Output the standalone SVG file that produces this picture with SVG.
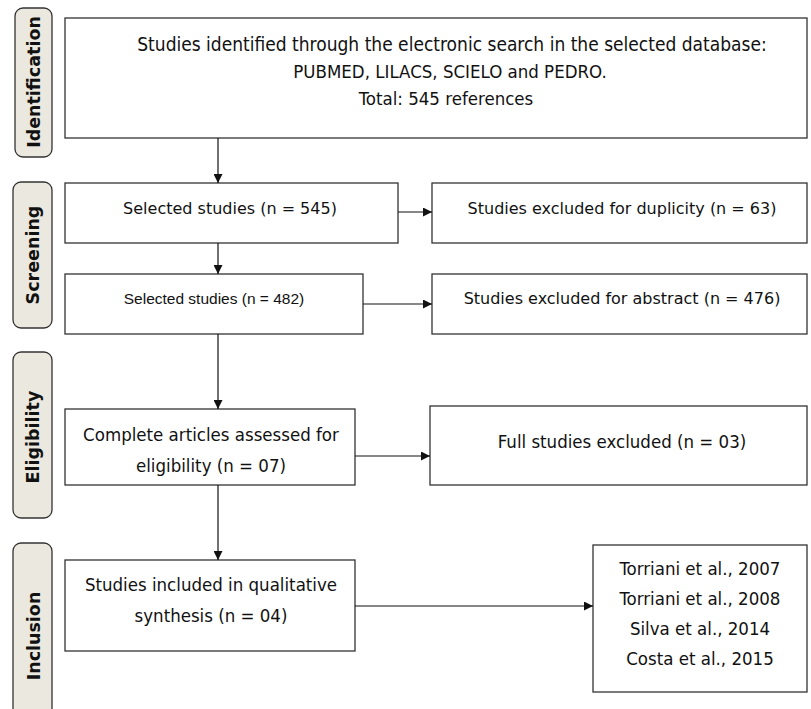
<svg xmlns="http://www.w3.org/2000/svg" width="811" height="709" viewBox="0 0 811 709">
<style>
.phase{fill:#ebe8df;stroke:#333;stroke-width:1.3}
.ph{font-family:"DejaVu Sans",sans-serif;font-weight:bold;font-size:17.5px;fill:#111;text-anchor:middle}
.box{fill:#fff;stroke:#333;stroke-width:1.3}
.t{font-family:"DejaVu Sans Condensed","DejaVu Sans",sans-serif;font-stretch:condensed;font-size:18.5px;fill:#111;text-anchor:middle}
.v{font-family:"DejaVu Sans",sans-serif;font-size:16px;fill:#111;text-anchor:middle}
.a{font-family:"Liberation Sans",Arial,sans-serif;font-size:15.5px;fill:#111;text-anchor:middle}
.c{stroke:#111;stroke-width:1.2;fill:none;marker-end:url(#ah)}
</style>
<defs>
<marker id="ah" viewBox="0 0 10 10" refX="10" refY="5" markerWidth="9" markerHeight="9" markerUnits="userSpaceOnUse" orient="auto">
<path d="M0,0 L10,5 L0,10 z" fill="#111"/>
</marker>
</defs>
<rect width="811" height="709" fill="#fff"/>
<g id="phase-identification"><rect class="phase" x="15" y="8" width="37" height="149" rx="8"/><text class="ph" transform="translate(40,82) rotate(-90)">Identification</text></g>
<g id="phase-screening"><rect class="phase" x="13" y="182" width="39" height="146" rx="8"/><text class="ph" transform="translate(39,255) rotate(-90)">Screening</text></g>
<g id="phase-eligibility"><rect class="phase" x="13" y="352" width="39" height="166" rx="8"/><text class="ph" transform="translate(39,437) rotate(-90)">Eligibility</text></g>
<g id="phase-inclusion"><rect class="phase" x="13" y="543" width="39" height="180" rx="8"/><text class="ph" transform="translate(40,636) rotate(-90)">Inclusion</text></g>

<g id="n-identified"><rect class="box" x="65" y="18" width="742" height="120"/>
<text class="t" x="452" y="51" style="font-size:19px">Studies identified through the electronic search in the selected database:</text>
<text class="t" x="450" y="78">PUBMED, LILACS, SCIELO and PEDRO.</text>
<text class="t" x="446" y="105">Total: 545 references</text></g>

<g id="n-selected545"><rect class="box" x="65" y="183" width="333" height="60"/><text class="v" x="230" y="214">Selected studies (n = 545)</text></g>
<g id="n-dup"><rect class="box" x="432" y="183" width="375" height="60"/><text class="v" x="622" y="214">Studies excluded for duplicity (n = 63)</text></g>
<g id="n-selected482"><rect class="box" x="65" y="274" width="298" height="60"/><text class="a" x="214" y="304">Selected studies (n = 482)</text></g>
<g id="n-abstract"><rect class="box" x="432" y="274" width="375" height="60"/><text class="v" x="622" y="304">Studies excluded for abstract (n = 476)</text></g>
<g id="n-complete"><rect class="box" x="65" y="409" width="290" height="76"/><text class="t" x="211" y="441">Complete articles assessed for</text><text class="t" x="211" y="472">eligibility (n = 07)</text></g>
<g id="n-fullexcl"><rect class="box" x="430" y="406" width="377" height="79"/><text class="t" x="622" y="448">Full studies excluded (n = 03)</text></g>
<g id="n-included"><rect class="box" x="65" y="560" width="290" height="91"/><text class="t" x="211" y="591">Studies included in qualitative</text><text class="t" x="211" y="622">synthesis (n = 04)</text></g>
<g id="n-refs"><rect class="box" x="593" y="545" width="214" height="147"/>
<text class="t" x="700" y="575">Torriani et al., 2007</text>
<text class="t" x="700" y="605">Torriani et al., 2008</text>
<text class="t" x="700" y="635">Silva et al., 2014</text>
<text class="t" x="700" y="665">Costa et al., 2015</text></g>

<g id="connectors">
<line class="c" x1="218" y1="138" x2="218" y2="183"/>
<line class="c" x1="398" y1="212" x2="432" y2="212"/>
<line class="c" x1="218" y1="243" x2="218" y2="274"/>
<line class="c" x1="363" y1="304" x2="432" y2="304"/>
<line class="c" x1="218" y1="334" x2="218" y2="409"/>
<line class="c" x1="355" y1="456" x2="430" y2="456"/>
<line class="c" x1="218" y1="485" x2="218" y2="560"/>
<line class="c" x1="355" y1="606" x2="593" y2="606"/>
</g>
</svg>
